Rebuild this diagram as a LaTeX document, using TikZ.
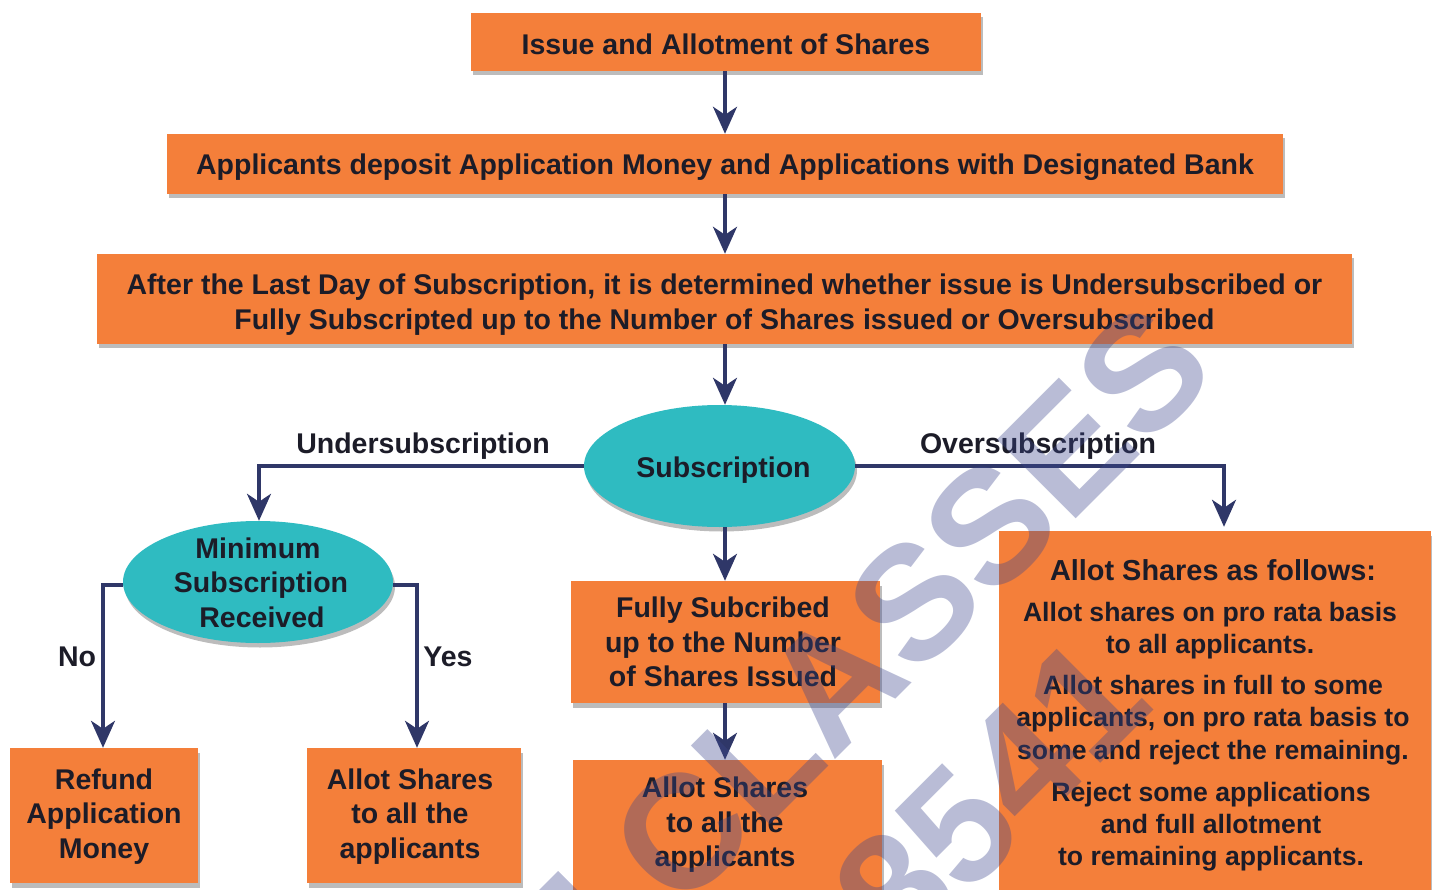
\documentclass[tikz,border=0pt]{standalone}
\usepackage{fontspec}
\setmainfont{Liberation Sans}
\usetikzlibrary{arrows.meta,shapes.geometric,shadows}
\definecolor{boxorange}{HTML}{F47F3A}
\definecolor{ovalteal}{HTML}{2FBBC1}
\definecolor{linknavy}{HTML}{2F3768}
\definecolor{inkdark}{HTML}{1C1C28}
\definecolor{markblue}{HTML}{3C468C}
% first-line strut: pushes a node's text down by #1 pt
\newcommand{\dropdown}[1]{\rule{0pt}{\dimexpr 20pt+2\dimexpr #1pt\relax\relax}}
\newcommand{\sidestep}[1]{\hspace*{#1pt}}
\tikzset{
  softshadow/.style={drop shadow={shadow xshift=2pt,shadow yshift=-4.5pt,fill=black!35,opacity=.75}},
  orangebox/.style={rectangle,fill=boxorange,softshadow,inner sep=0pt,align=center,text=inkdark,font=\fontsize{28.5}{34.5}\selectfont\bfseries},
  tealoval/.style={ellipse,fill=ovalteal,softshadow,inner sep=0pt,align=center,text=inkdark,font=\fontsize{28.5}{34.5}\selectfont\bfseries},
  linklabel/.style={text=inkdark,inner sep=0pt,font=\fontsize{28.5}{34}\selectfont\bfseries},
  flow/.style={draw=linknavy,line width=3.6pt,-{Stealth[length=27pt,width=24pt,inset=8pt]}},
  parablock/.style={inner sep=0pt,align=center,text=inkdark,font=\fontsize{26.6}{32.2}\selectfont\bfseries},
  markword/.style={inner sep=0pt,text=markblue,opacity=.36,rotate=45,font=\fontsize{162}{162}\selectfont\bfseries}
}
\begin{document}
\begin{tikzpicture}[x=1pt,y=-1pt]
\useasboundingbox (0,0) rectangle (1432,890);
\clip (0,0) rectangle (1432,890);
\coordinate (midline) at (725,0);
\coordinate (underturn) at (259,466);
\coordinate (overturn) at (1224,466);
\coordinate (noturn) at (103,585);
\coordinate (yesturn) at (417,585);
\node[orangebox,minimum width=510pt,minimum height=58pt] (issue) at (726,42) {\dropdown{3}Issue and Allotment of Shares};
\node[orangebox,minimum width=1116pt,minimum height=60pt] (deposit) at (725,164) {\dropdown{4}Applicants deposit Application Money and Applications with Designated Bank};
\node[orangebox,minimum width=1255pt,minimum height=90pt] (lastday) at (724.5,299) {\dropdown{6}After the Last Day of Subscription, it is determined whether issue is Undersubscribed or\\Fully Subscripted up to the Number of Shares issued or Oversubscribed};
\node[tealoval,minimum width=271pt,minimum height=122pt] (subs) at (719.5,466) {\dropdown{4}\sidestep{8}Subscription};
\node[tealoval,inner ysep=-14pt,minimum width=270pt,minimum height=122pt] (minsub) at (258,582) {\dropdown{1}Minimum\\\sidestep{6}Subscription\\\sidestep{8}Received};
\node[orangebox,minimum width=309pt,minimum height=122pt] (fully) at (725.5,642) {\sidestep{-5}Fully Subcribed\\\sidestep{-5}up to the Number\\\sidestep{-5}of Shares Issued};
\node[orangebox,minimum width=309pt,minimum height=130pt] (allotmid) at (727.5,825) {\sidestep{-5}Allot Shares\\\sidestep{-5}to all the\\\sidestep{-5}applicants};
\node[orangebox,minimum width=188pt,minimum height=135pt] (refund) at (104,815.5) {\dropdown{1}Refund\\Application\\Money};
\node[orangebox,minimum width=214pt,minimum height=135pt] (allotleft) at (414,815.5) {\dropdown{1}\sidestep{-8}Allot Shares\\\sidestep{-8}to all the\\\sidestep{-8}applicants};
\node[orangebox,minimum width=432pt,minimum height=359pt] (allotright) at (1215,710.5) {};
\node[parablock,font=\fontsize{28.9}{32.2}\selectfont\bfseries] (ptitle) at (1213,570) {Allot Shares as follows:};
\node[parablock] (pone) at (1210,630.5) {Allot shares on pro rata basis\\to all applicants.};
\node[parablock] (ptwo) at (1213,720) {Allot shares in full to some\\applicants, on pro rata basis to\\some and reject the remaining.};
\node[parablock] (pthree) at (1211,826.5) {Reject some applications\\and full allotment\\to remaining applicants.};
\node[linklabel] (under) at (423,446) {Undersubscription};
\node[linklabel] (over) at (1038,446) {Oversubscription};
\node[linklabel] (no) at (77,657) {No};
\node[linklabel] (yes) at (448,657) {Yes};
\draw[flow] (issue.south -| midline) -- (deposit.north -| midline);
\draw[flow] (deposit.south -| midline) -- (lastday.north -| midline);
\draw[flow] (lastday.south -| midline) -- (subs.north -| midline);
\draw[flow] (subs.south -| midline) -- (fully.north -| midline);
\draw[flow] (fully.south -| midline) -- (allotmid.north -| midline);
\draw[flow] (subs.west) -- (underturn) -- (underturn |- minsub.north);
\draw[flow,shorten >=4pt] (subs.east) -- (overturn) -- (overturn |- allotright.north);
\draw[flow] (noturn -| minsub.west) -- (noturn) -- (noturn |- refund.north);
\draw[flow] (yesturn -| minsub.east) -- (yesturn) -- (yesturn |- allotleft.north);
\node[markword] (markclasses) at (911,605) {CLASSES};
\node[markword] (marknum) at (990,795) {8541};
\fill[markblue,opacity=.36] (558,871) -- (580,893) -- (536,893) -- cycle;
\end{tikzpicture}
\end{document}
